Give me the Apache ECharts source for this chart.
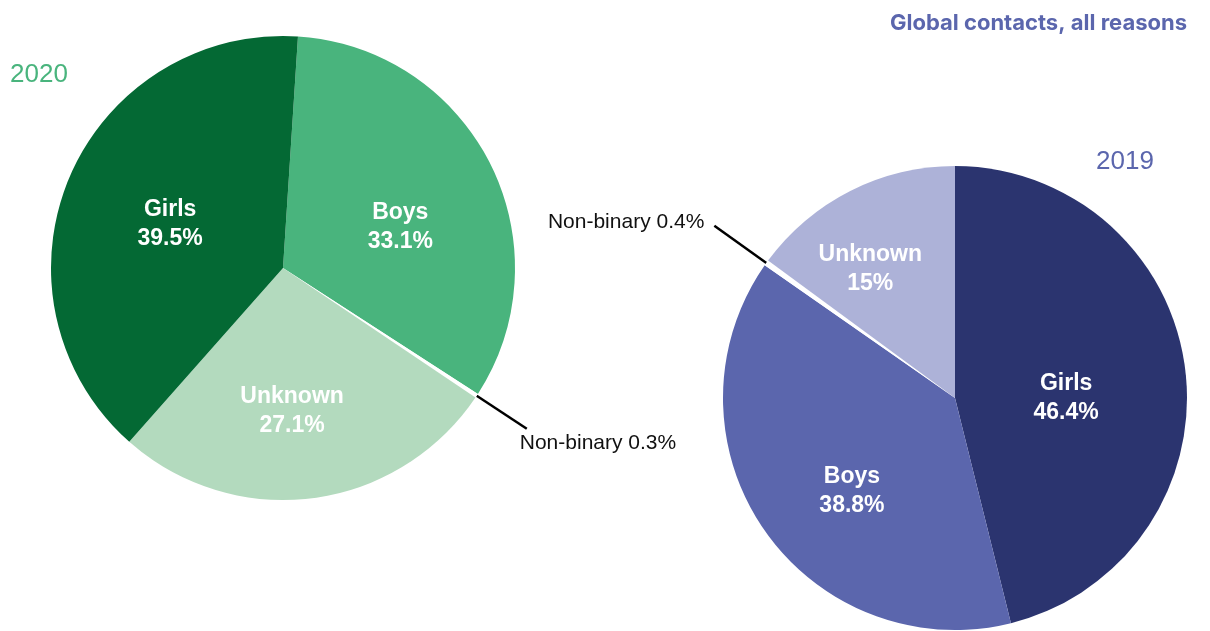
<!DOCTYPE html>
<html>
<head>
<meta charset="utf-8">
<script src="https://cdn.jsdelivr.net/npm/echarts@6/dist/echarts.min.js"></script>
<style>
  html, body { margin: 0; padding: 0; background: #fff; }
  #myChart { width: 1210px; height: 631px; }
</style>
</head>
<body>
<div id="myChart"></div>
<script>
// 2020 slices, clockwise from just right of 12 o'clock
const names2020 = ['Boys', 'Non-binary', 'Unknown', 'Girls']
const values2020 = [33.1, 0.3, 27.1, 39.5]
const colors2020 = ['#49b47d', '#ffffff', '#b3dabe', '#046934']

// 2019 slices, clockwise from 12 o'clock
const names2019 = ['Girls', 'Boys', 'Non-binary', 'Unknown']
const values2019 = [46.4, 38.8, 0.4, 15]
const colors2019 = ['#2b346f', '#5b66ad', '#ffffff', '#adb2d8']

const titleText = 'Global contacts, all reasons'
const yearLeft = '2020'
const yearRight = '2019'

// small nudges for the inside labels (the original places them by hand)
const labelNudge = [
  { Boys: [11, 13], Unknown: [-6, 25], Girls: [-3, 2] },
  { Girls: [-7, 15], Boys: [-5, 26], Unknown: [-31, -23] }
]

const insideLabel = {
  show: true,
  position: 'inside',
  formatter: '{b}\n{c}%',
  color: '#fff',
  fontFamily: 'Liberation Sans, Arial',
  fontWeight: 'bold',
  fontSize: 23,
  lineHeight: 29
}

function buildData (names, values, colors, nbLabel, nbLine) {
  return names.map(function (n, i) {
    const item = { name: n, value: values[i], itemStyle: { color: colors[i] } }
    if (n === 'Non-binary') {
      item.label = nbLabel
      item.labelLine = nbLine
    }
    return item
  })
}

function nudge (params) {
  const names = params.seriesIndex === 0 ? names2020 : names2019
  const d = labelNudge[params.seriesIndex][names[params.dataIndex]]
  if (!d) return {}
  return { dx: d[0], dy: d[1] }
}

const nbLeftLine = {
  show: true,
  length: 60,
  length2: 0,
  lineStyle: { color: '#000', width: 2.5 }
}
const nbRightLine = {
  show: true,
  length: 64,
  length2: 0,
  lineStyle: { color: '#000', width: 2.5 }
}

const nbLabelLeft = {
  show: true,
  position: 'outside',
  formatter: '{t|{b} {c}%}',
  distanceToLabelLine: -7,
  rich: {
    t: {
      color: '#111',
      fontFamily: 'Liberation Sans, Arial',
      fontWeight: 'normal',
      fontSize: 21,
      lineHeight: 25,
      padding: [28, 0, 0, 0]
    }
  }
}

const nbLabelRight = {
  show: true,
  position: 'outside',
  formatter: '{t|{b} {c}%}',
  distanceToLabelLine: 10,
  rich: {
    t: {
      color: '#111',
      fontFamily: 'Liberation Sans, Arial',
      fontWeight: 'normal',
      fontSize: 21,
      lineHeight: 25,
      padding: [0, 0, 6, 0]
    }
  }
}

const myChart = echarts.init(document.getElementById('myChart'))
myChart.setOption({
  animation: false,
  title: [
    {
      text: titleText,
      right: 18,
      top: 7,
      textStyle: { color: '#5b66ad', fontFamily: 'Inter', fontWeight: 'bold', fontSize: 22 }
    },
    {
      text: yearLeft,
      left: 5,
      top: 57,
      textStyle: { color: '#49b47d', fontFamily: 'Liberation Sans, Arial', fontWeight: 'normal', fontSize: 26 }
    },
    {
      text: yearRight,
      left: 1091,
      top: 144,
      textStyle: { color: '#5b66ad', fontFamily: 'Liberation Sans, Arial', fontWeight: 'normal', fontSize: 26 }
    }
  ],
  series: [
    {
      name: '2020',
      type: 'pie',
      center: [283, 268],
      radius: 232,
      startAngle: 86.3,
      clockwise: true,
      avoidLabelOverlap: false,
      label: insideLabel,
      labelLine: { show: false },
      labelLayout: nudge,
      emphasis: { disabled: true },
      data: buildData(names2020, values2020, colors2020, nbLabelLeft, nbLeftLine)
    },
    {
      name: '2019',
      type: 'pie',
      center: [955, 398],
      radius: 232,
      startAngle: 90,
      clockwise: true,
      avoidLabelOverlap: false,
      label: insideLabel,
      labelLine: { show: false },
      labelLayout: nudge,
      emphasis: { disabled: true },
      data: buildData(names2019, values2019, colors2019, nbLabelRight, nbRightLine)
    }
  ]
})
</script>
</body>
</html>
